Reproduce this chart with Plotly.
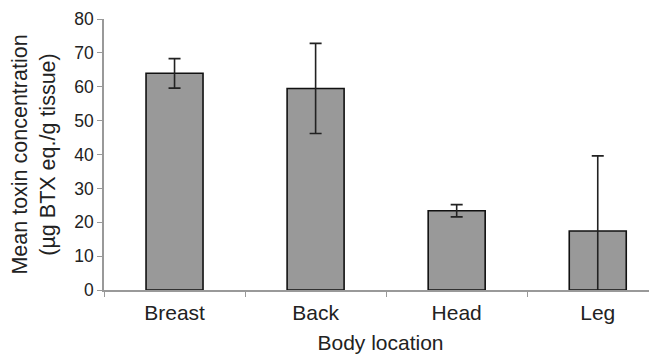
import plotly.graph_objects as go

categories = ["Breast", "Back", "Head", "Leg"]
means = [64.0, 59.5, 23.4, 17.4]
err_plus = [4.3, 13.3, 1.8, 22.2]
err_minus = [4.4, 13.3, 1.8, 22.2]
y_ticks = [0, 10, 20, 30, 40, 50, 60, 70, 80]

fig = go.Figure(go.Bar(
    x=categories, y=means, width=0.404,
    marker=dict(color="#999999", line=dict(color="#111111", width=1.6)),
    error_y=dict(type="data", symmetric=False, array=err_plus, arrayminus=err_minus,
                 color="#222222", thickness=1.6, width=6),
))

font = "Liberation Sans, Arial, sans-serif"
fig.update_layout(
    width=649, height=348,
    margin=dict(l=96, r=0, t=11, b=66, autoexpand=False),
    plot_bgcolor="white", paper_bgcolor="white",
    showlegend=False,
    font=dict(family=font, color="#222222"),
    xaxis=dict(
        range=[-0.5, 3.42], showline=True, linecolor="#999999", linewidth=1.5,
        ticks="outside", tickson="boundaries", ticklen=5, tickcolor="#999999",
        tickfont=dict(size=21), showgrid=False, automargin=False, ticklabelstandoff=3,
        title=dict(text="Body location", font=dict(size=21), standoff=12),
    ),
    yaxis=dict(
        range=[0, 80], tickvals=y_ticks, showline=True, linecolor="#999999", linewidth=1.5,
        ticks="outside", ticklen=5, tickcolor="#999999", showgrid=False, zeroline=False,
        tickfont=dict(size=17.5), automargin=False,
        title=dict(text="Mean toxin concentration<br>(µg BTX eq./g tissue)", font=dict(size=21.5), standoff=14),
    ),
)
fig.write_html("out.html")
